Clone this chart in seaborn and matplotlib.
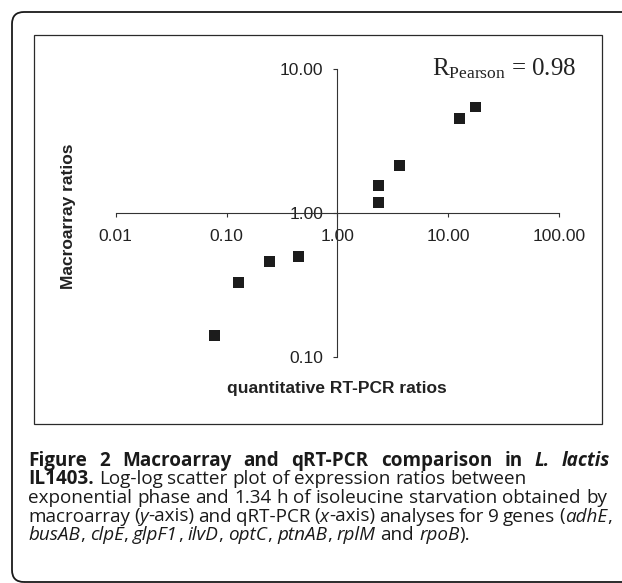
import matplotlib
matplotlib.use("Agg")
import matplotlib.pyplot as plt
import matplotlib.ticker as mticker
from matplotlib.patches import FancyBboxPatch, Rectangle
from matplotlib.transforms import IdentityTransform
import seaborn as sns
import pandas as pd

# ---------------- data ----------------
genes = ["g1", "g2", "g3", "g4", "g5", "g6", "g7", "g8", "g9"]
qpcr_ratio = [0.078, 0.129, 0.245, 0.448, 2.36, 2.36, 3.65, 12.7, 17.7]
macro_ratio = [0.142, 0.333, 0.466, 0.501, 1.55, 1.19, 2.16, 4.52, 5.47]
x_ticks = [0.01, 0.1, 1, 10, 100]
x_tick_labels = ["0.01", "0.10", "1.00", "10.00", "100.00"]
y_ticks = [0.1, 1, 10]
y_tick_labels = ["0.10", "1.00", "10.00"]
x_title = "quantitative RT-PCR ratios"
y_title = "Macroarray ratios"
r_text = r"$\mathrm{R}_{\mathrm{Pearson}}$ = 0.98"

caption_lines = [
    [("Figure 2 Macroarray and qRT-PCR comparison in ", "bold", "normal"),
     ("L. lactis", "bold", "italic")],
    [("IL1403.", "bold", "normal"),
     (" Log-log scatter plot of expression ratios between", "normal", "normal")],
    [("exponential phase and 1.34 h of isoleucine starvation obtained by", "normal", "normal")],
    [("macroarray (", "normal", "normal"), ("y", "normal", "italic"),
     ("-axis) and qRT-PCR (", "normal", "normal"), ("x", "normal", "italic"),
     ("-axis) analyses for 9 genes (", "normal", "normal"), ("adhE", "normal", "italic"),
     (",", "normal", "normal")],
    [("busAB", "normal", "italic"), (", ", "normal", "normal"),
     ("clpE", "normal", "italic"), (", ", "normal", "normal"),
     ("glpF1", "normal", "italic"), (", ", "normal", "normal"),
     ("ilvD", "normal", "italic"), (", ", "normal", "normal"),
     ("optC", "normal", "italic"), (", ", "normal", "normal"),
     ("ptnAB", "normal", "italic"), (", ", "normal", "normal"),
     ("rplM", "normal", "italic"), (" and ", "normal", "normal"),
     ("rpoB", "normal", "italic"), (").", "normal", "normal")],
]
# right edge each caption line reaches (None = natural width)
caption_right = [610, None, 607, 612, None]

df = pd.DataFrame({"gene": genes, "qpcr": qpcr_ratio, "macro": macro_ratio})

# ---------------- figure ----------------
W, H = 622, 583
plt.rcParams["mathtext.fontset"] = "custom"
plt.rcParams["mathtext.rm"] = "Liberation Serif"
plt.rcParams["mathtext.it"] = "Liberation Serif:italic"
plt.rcParams["mathtext.bf"] = "Liberation Serif:bold"

fig = plt.figure(figsize=(W / 100, H / 100), dpi=100)
fig.patch.set_facecolor("white")

def fx(x):
    return x / W

def fy(y):
    return 1 - y / H

# outer rounded frame and inner chart frame (pixel coords, origin bottom-left)
outer = FancyBboxPatch((12, H - 582), 650, 570,
                       boxstyle="round,pad=0,rounding_size=12",
                       transform=IdentityTransform(), facecolor="none",
                       edgecolor="#1a1a1a", linewidth=1.3)
fig.patches.append(outer)
inner = Rectangle((34, H - 424), 568, 389, transform=IdentityTransform(),
                  facecolor="none", edgecolor="#2a2a2a", linewidth=0.9)
fig.patches.append(inner)

# axes positioned so that decades land where the reference puts them
x_left, x_right = 115.7, 559.0
y_top, y_bot = 69.3, 357.3
ax = fig.add_axes([fx(x_left), fy(y_bot), fx(x_right - x_left), (y_bot - y_top) / H])
ax.patch.set_alpha(0)

sns.scatterplot(data=df, x="qpcr", y="macro", marker="s", s=62,
                color="#1c1c1c", edgecolor="none", linewidth=0,
                legend=False, ax=ax, zorder=5)

ax.set_xscale("log")
ax.set_yscale("log")
ax.set_xlim(0.01, 100)
ax.set_ylim(0.1, 10)
for s in ["top", "right"]:
    ax.spines[s].set_visible(False)
ax.spines["left"].set_position(("data", 1))
ax.spines["bottom"].set_position(("data", 1))
for s in ["left", "bottom"]:
    ax.spines[s].set_color("#333333")
    ax.spines[s].set_linewidth(0.8)

ax.xaxis.set_major_locator(mticker.FixedLocator(x_ticks))
ax.xaxis.set_major_formatter(mticker.FixedFormatter(x_tick_labels))
ax.yaxis.set_major_locator(mticker.FixedLocator(y_ticks))
ax.yaxis.set_major_formatter(mticker.FixedFormatter(y_tick_labels))
ax.xaxis.set_minor_locator(mticker.NullLocator())
ax.yaxis.set_minor_locator(mticker.NullLocator())
ax.tick_params(axis="x", direction="out", length=3, width=0.8, pad=8,
               labelsize=12.5, colors="#333333", labelcolor="#222222")
ax.tick_params(axis="y", direction="out", length=3, width=0.8, pad=7,
               labelsize=12.5, colors="#333333", labelcolor="#222222")
for lab in ax.get_xticklabels() + ax.get_yticklabels():
    lab.set_fontfamily("Liberation Sans")
ax.set_xlabel("")
ax.set_ylabel("")
ax.grid(False)

# axis titles
fig.text(fx(337), fy(389), x_title, ha="center", va="center", fontsize=12.5,
         fontweight="bold", family="Liberation Sans", color="#222222")
fig.text(fx(68), fy(216), y_title, ha="center", va="center", rotation=90,
         fontsize=12.5, fontweight="bold", family="Liberation Sans", color="#222222")

# correlation annotation
fig.text(fx(432), fy(75), r_text, ha="left", va="baseline", fontsize=18,
         family="Liberation Serif", color="#222222")

# ---------------- caption ----------------
renderer = fig.canvas.get_renderer()
cap_family = "Open Sans"

def measure(txt, weight, style, size):
    t = fig.text(0, 0, txt, fontsize=size, family=cap_family, weight=weight, style=style)
    w = t.get_window_extent(renderer).width
    t.remove()
    return w

def advance(txt, weight, style, size):
    # advance width (not ink extent): measure with a trailing reference glyph
    return measure(txt + "l", weight, style, size) - measure("l", weight, style, size)

cap_size = 10 * 579.0 / measure(caption_lines[2][0][0], "normal", "normal", 10)

def tokenize(segments):
    toks = []
    pending = False
    for txt, weight, style in segments:
        parts = txt.split(" ")
        for i, p in enumerate(parts):
            if i > 0:
                pending = True
            if p:
                toks.append([p, weight, style, pending and len(toks) > 0])
                pending = False
    return toks

def draw_line(segments, x0, y_base, size, right=None):
    toks = tokenize(segments)
    widths = [advance(t[0], t[1], t[2], size) for t in toks]
    ngaps = sum(1 for t in toks if t[3])
    gap = measure("n n", "normal", "normal", size) - measure("nn", "normal", "normal", size)
    if right is not None and ngaps > 0:
        gap = (right - x0 - sum(widths)) / ngaps
    x = x0
    for (txt, weight, style, sp), w in zip(toks, widths):
        if sp:
            x += gap
        fig.text(x / W, fy(y_base), txt, fontsize=size, family=cap_family,
                 weight=weight, style=style, ha="left", va="baseline",
                 color="#1a1a1a")
        x += w

baselines = [466, 484.5, 503, 521.5, 540]
for segs, yb, r in zip(caption_lines, baselines, caption_right):
    draw_line(segs, 28, yb, cap_size, r)

fig.savefig("out.png", dpi=100, facecolor="white")
